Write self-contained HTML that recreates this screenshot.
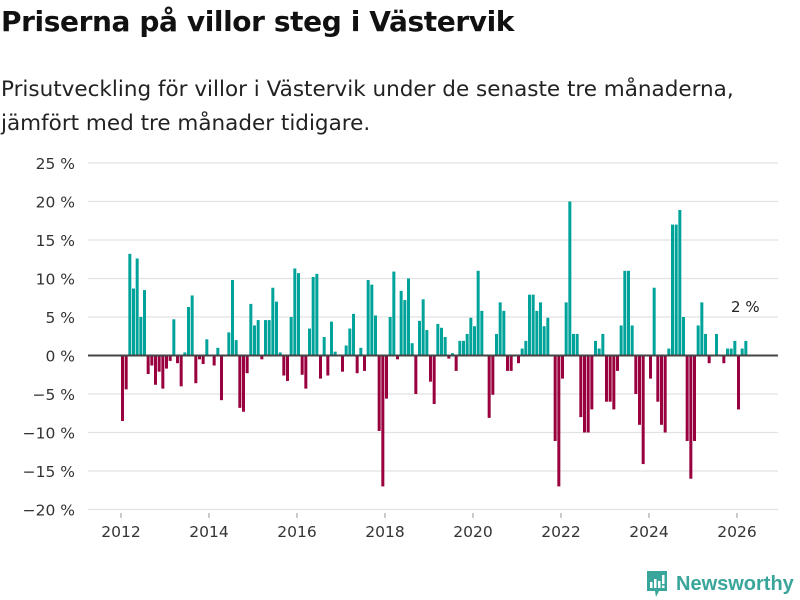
<!DOCTYPE html>
<html><head><meta charset="utf-8">
<style>
body{margin:0;width:800px;height:600px;background:#fff;font-family:"Liberation Sans","DejaVu Sans",sans-serif;overflow:hidden;position:relative}
#title{position:absolute;left:1px;top:5px;font-size:28px;font-weight:bold;color:#111;margin:0;font-family:"DejaVu Sans",sans-serif;letter-spacing:-0.4px}
#sub{position:absolute;left:1px;top:73px;font-size:21.5px;line-height:34px;color:#222;width:798px;font-family:"DejaVu Sans",sans-serif;letter-spacing:0px}
svg{position:absolute;left:0;top:0}
</style></head><body>
<h1 id="title">Priserna på villor steg i Västervik</h1>
<div id="sub">Prisutveckling för villor i Västervik under de senaste tre månaderna,<br>jämfört med tre månader tidigare.</div>
<svg id="chart" width="800" height="600"></svg>
<script>
const values=[-8.5,-4.4,13.2,8.7,12.6,5.0,8.5,-2.4,-1.3,-3.8,-2.1,-4.3,-1.7,-0.7,4.7,-1.0,-4.0,0.4,6.3,7.8,-3.6,-0.5,-1.1,2.1,0,-1.3,1.0,-5.8,0,3.0,9.8,2.0,-6.8,-7.3,-2.3,6.7,3.9,4.6,-0.5,4.6,4.6,8.8,7.0,0.4,-2.6,-3.3,5.0,11.3,10.7,-2.5,-4.3,3.5,10.2,10.6,-3.0,2.4,-2.6,4.4,0.5,0,-2.1,1.3,3.5,5.4,-2.3,1.0,-2.0,9.8,9.2,5.2,-9.8,-17,-5.6,5.0,10.9,-0.5,8.4,7.2,10.0,1.6,-5.0,4.5,7.3,3.3,-3.4,-6.3,4.1,3.6,2.4,-0.4,0.3,-2.0,1.9,1.9,2.8,4.9,3.8,11.0,5.8,0,-8.1,-5.1,2.8,6.9,5.8,-2.0,-2.0,0,-1.0,0.9,1.9,7.9,7.9,5.8,6.9,3.8,4.9,0,-11.1,-17,-3.0,6.9,20,2.8,2.8,-8.0,-10,-10,-7.0,1.9,0.9,2.8,-6.0,-6.0,-7.0,-2.0,3.9,11.0,11.0,3.9,-5.0,-9.0,-14.1,0,-3.0,8.8,-6.0,-9.0,-10,0.9,17,17,18.9,5.0,-11.1,-16,-11.1,3.9,6.9,2.8,-1.0,0,2.8,0,-1.0,0.9,0.9,1.9,-7.0,0.9,1.9];
const startYear=2012;
const yTicks=[25,20,15,10,5,0,-5,-10,-15,-20];
const xTicks=[2012,2014,2016,2018,2020,2022,2024,2026];
const lastLabel="2 %";
const svg=document.getElementById('chart');
const NS='http://www.w3.org/2000/svg';
const X0=121,PX_MONTH=44/12,Y0=355.5,PX_PCT=7.7;
function xm(i){return X0+i*PX_MONTH;}
function xy(yr){return X0+(yr-startYear)*44;}
function yv(v){return Y0-v*PX_PCT;}
function mk(tag,attrs){const e=document.createElementNS(NS,tag);for(const k in attrs)e.setAttribute(k,attrs[k]);svg.appendChild(e);return e;}
yTicks.forEach(t=>{
  if(t!==0){const g=mk('line',{x1:88,x2:778,y1:yv(t),y2:yv(t),stroke:'#e2e2e2','stroke-width':1.2});
  
  }
  const l=mk('text',{x:75,y:yv(t)+6,'text-anchor':'end','font-size':15.5,fill:'#333','font-family':'DejaVu Sans, sans-serif'});
  l.textContent=(t<0?'−'+(-t):t)+' %';
  
  
});
xTicks.forEach(t=>{
  const l=mk('text',{x:xy(t),y:537,'text-anchor':'middle','font-size':15.5,fill:'#333','font-family':'DejaVu Sans, sans-serif'});
  l.textContent=t;
  
  
  const tk=mk('line',{x1:xy(t),x2:xy(t),y1:513,y2:518,stroke:'#999'});
  
  
});
values.forEach((v,i)=>{
  if(v===0)return;
  const y1=yv(Math.max(v,0)),h=Math.abs(v)*PX_PCT;
  const r=mk('rect',{x:xm(i),y:y1,width:3,height:h,fill:v>0?'#00a39a':'#99003d'});
  
  
});
const z=mk('line',{x1:88,x2:778,y1:Y0,y2:Y0,stroke:'#444','stroke-width':2});


const li=values.length-1;
const lt=mk('text',{x:xm(li)+1,y:yv(values[li])-29,'text-anchor':'middle','font-size':15,fill:'#222','font-family':'DejaVu Sans, sans-serif'});
lt.textContent=lastLabel;


</script>
<div style="position:absolute;left:645px;top:570px;height:28px;display:flex;align-items:center">
<svg width="24" height="30" viewBox="0 0 24 30" style="position:static"><path d="M2 2h20v20h-8l-3 6-1-6H2z" fill="#3aa59a"/><rect x="5" y="13" width="2.5" height="6" fill="#fff"/><rect x="9" y="10" width="2.5" height="9" fill="#fff"/><rect x="13" y="12" width="2.5" height="7" fill="#fff"/><rect x="17" y="6" width="2.5" height="9" fill="#fff"/><rect x="17" y="16.5" width="2.5" height="2.5" fill="#fff"/></svg>
<span style="font-size:20px;color:#3aa59a;margin-left:7px;font-weight:bold">Newsworthy</span></div>
</body></html>
